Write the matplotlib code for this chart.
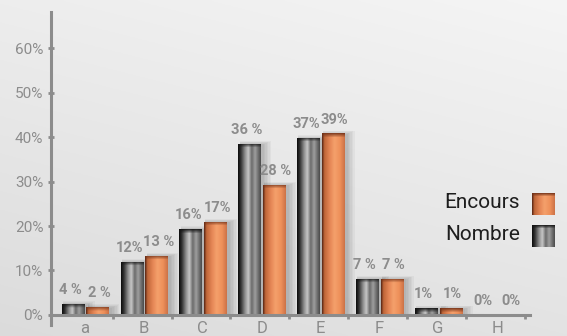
import numpy as np
import matplotlib
matplotlib.use('Agg')
import matplotlib.pyplot as plt
from matplotlib.patches import Rectangle

categories = ['a', 'B', 'C', 'D', 'E', 'F', 'G', 'H']
# bar heights as drawn in the picture (%)
nombre = [2.5, 12.0, 19.3, 38.5, 39.8, 8.2, 1.5, 0.0]
encours = [1.8, 13.3, 21.0, 29.3, 40.8, 8.2, 1.5, 0.0]
# value labels as printed above the bars
nombre_labels = ['4 %', '12%', '16%', '36 %', '37%', '7 %', '1%', '0%']
encours_labels = ['2 %', '13 %', '17%', '28 %', '39%', '7 %', '1%', '0%']
yticks = [0, 10, 20, 30, 40, 50, 60]

GREY = '#8c8c8c'
FONT = 'Roboto'

nombre_stops = [(0.00, (0.05, 0.05, 0.05)), (0.12, (0.2, 0.2, 0.2)),
                (0.30, (0.55, 0.55, 0.55)), (0.45, (0.78, 0.78, 0.78)),
                (0.60, (0.42, 0.42, 0.42)), (0.75, (0.62, 0.62, 0.62)),
                (0.90, (0.42, 0.42, 0.42)), (1.00, (0.3, 0.3, 0.3))]
encours_stops = [(0.00, (0.35, 0.15, 0.08)), (0.10, (0.75, 0.40, 0.22)),
                 (0.35, (0.90, 0.53, 0.34)), (0.55, (0.96, 0.63, 0.42)),
                 (0.80, (0.93, 0.56, 0.35)), (1.00, (0.80, 0.45, 0.28))]
top_nombre = (0.08, 0.08, 0.08)
top_encours = (0.45, 0.2, 0.1)


def gradient(stops, top, rows, cols=48, band=4):
    t = np.linspace(0, 1, cols)
    pos = [s[0] for s in stops]
    row = np.stack([np.interp(t, pos, [s[1][c] for s in stops]) for c in range(3)], axis=-1)
    img = np.repeat(row[None, :, :], rows, axis=0)
    band = min(band, rows)
    for r in range(band):
        a = 0.85 * (1 - r / band)
        img[r] = img[r] * (1 - a) + np.array(top) * a
    return img


fig = plt.figure(figsize=(5.67, 3.36), dpi=100)

# background
bg = fig.add_axes([0, 0, 1, 1])
yy, xx = np.mgrid[0:1:200j, 0:1:300j]
val = 0.86 + 0.07 * (1 - yy) + 0.03 * xx
bg.imshow(np.dstack([val, val, val]), aspect='auto', extent=(0, 1, 0, 1), zorder=0)
bg.set_xlim(0, 1)
bg.set_ylim(0, 1)
bg.axis('off')

ax = fig.add_axes([51 / 567, 11 / 336, (530 - 51) / 567, 313 / 336])
ax.patch.set_alpha(0)
ax.set_xlim(-0.578, 7.56)
ax.set_ylim(-2.25, 68.1)

px_per_unit = 313 / (68.1 + 2.25)
x = np.arange(len(categories))
w = 0.39


def draw_bars(xs, heights, stops, top):
    bars = ax.bar(xs, heights, width=w, color='none', zorder=3)
    for b in bars:
        bx, bw, bh = b.get_x(), b.get_width(), b.get_height()
        if bh <= 0:
            continue
        # soft shadow
        for k in range(1, 7):
            ax.add_patch(Rectangle((bx + 0.02, -0.3), bw + 0.025 * k, bh + 0.15 * k,
                                   color='black', alpha=0.035, lw=0, zorder=2))
        rows = max(int(round(bh * px_per_unit)), 1)
        im = ax.imshow(gradient(stops, top, rows), aspect='auto',
                       extent=(bx, bx + bw, 0, bh), zorder=3, interpolation='bilinear')
        im.set_clip_path(b)
    return bars


draw_bars(x - 0.2, nombre, nombre_stops, top_nombre)
draw_bars(x + 0.22, encours, encours_stops, top_encours)

for xi, h, lab in zip(x - 0.2, nombre, nombre_labels):
    ax.annotate(lab, (xi, h), xytext=(-2, 5), textcoords='offset points', ha='center',
                va='bottom', fontsize=10.5, fontweight='bold', color=GREY, family=FONT, zorder=5)
for xi, h, lab in zip(x + 0.22, encours, encours_labels):
    ax.annotate(lab, (xi, h), xytext=(1, 5), textcoords='offset points', ha='center',
                va='bottom', fontsize=10.5, fontweight='bold', color=GREY, family=FONT, zorder=5)

# axes
for s in ['top', 'right']:
    ax.spines[s].set_visible(False)
for s in ['left', 'bottom']:
    ax.spines[s].set_color(GREY)
    ax.spines[s].set_linewidth(2.2)
ax.spines['bottom'].set_position(('data', 0))
ax.spines['bottom'].set_zorder(4)

ax.set_yticks(yticks)
ax.set_yticklabels([f'{v}%' for v in yticks], family=FONT, fontsize=11, color=GREY)
ax.tick_params(axis='y', direction='inout', length=5, width=2, color=GREY, pad=3)

ax.set_xticks(x)
ax.set_xticklabels(categories, family=FONT, fontsize=12, color=GREY)
ax.set_xticks(x + 0.47, minor=True)
ax.tick_params(axis='x', which='major', length=0, pad=4)
ax.tick_params(axis='x', which='minor', direction='out', length=3, width=2, color=GREY)

# legend
fig.text(520 / 567, 1 - 203 / 336, 'Encours', ha='right', va='center', fontsize=15,
         color='#1e1e1e', family=FONT)
fig.text(520 / 567, 1 - 234 / 336, 'Nombre', ha='right', va='center', fontsize=15,
         color='#1e1e1e', family=FONT)
for ytop, stops, top in [(193, encours_stops, top_encours), (225, nombre_stops, top_nombre)]:
    sw = fig.add_axes([532 / 567, 1 - (ytop + 22) / 336, 23 / 567, 22 / 336])
    sw.imshow(gradient(stops, top, 22, band=3), aspect='auto', interpolation='bilinear')
    sw.axis('off')

fig.savefig('out.png', dpi=100)
